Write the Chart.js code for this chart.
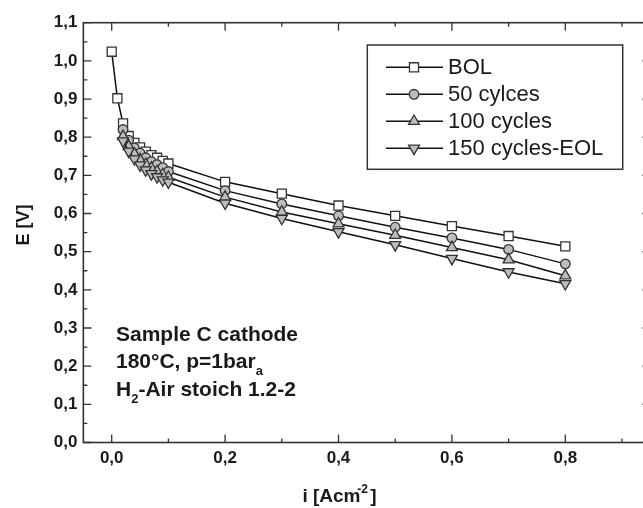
<!DOCTYPE html>
<html><head><meta charset="utf-8">
<script src="https://cdn.jsdelivr.net/npm/chart.js@4.4.0/dist/chart.umd.min.js"></script>
<style>
html,body{margin:0;padding:0;overflow:hidden;background:#fff;width:643px;height:508px}
#wrap{position:absolute;left:0;top:0;width:660px;height:508px}
</style>
</head><body><div id="wrap"><canvas id="c" width="660" height="508"></canvas></div>
<script>
// ---- data ----
const currentBOL = [0, 0.01, 0.02, 0.03, 0.04, 0.05, 0.06, 0.07, 0.08, 0.09, 0.1, 0.2, 0.3, 0.4, 0.5, 0.6, 0.7, 0.8];
const currentCycled = [0.02, 0.03, 0.04, 0.05, 0.06, 0.07, 0.08, 0.09, 0.1, 0.2, 0.3, 0.4, 0.5, 0.6, 0.7, 0.8];
const voltageBOL = [1.024, 0.902, 0.836, 0.803, 0.785, 0.773, 0.762, 0.753, 0.746, 0.738, 0.731, 0.683, 0.652, 0.621, 0.594, 0.567, 0.541, 0.514];
const voltage50 = [0.820, 0.792, 0.772, 0.758, 0.746, 0.736, 0.728, 0.720, 0.710, 0.660, 0.625, 0.594, 0.564, 0.536, 0.506, 0.468];
const voltage100 = [0.802, 0.776, 0.756, 0.741, 0.729, 0.719, 0.710, 0.702, 0.695, 0.643, 0.604, 0.573, 0.543, 0.511, 0.479, 0.437];
const voltage150 = [0.790, 0.763, 0.743, 0.727, 0.714, 0.704, 0.696, 0.688, 0.682, 0.627, 0.587, 0.552, 0.518, 0.482, 0.447, 0.416];
const seriesLabels = ['BOL', '50 cylces', '100 cycles', '150 cycles-EOL'];
const xTickValues = [0, 0.2, 0.4, 0.6, 0.8];
const xMinorTickValues = [0.1, 0.3, 0.5, 0.7, 0.9];
const yTickValues = [0, 0.1, 0.2, 0.3, 0.4, 0.5, 0.6, 0.7, 0.8, 0.9, 1.0, 1.1];
const yMinorTickValues = [0.05, 0.15, 0.25, 0.35, 0.45, 0.55, 0.65, 0.75, 0.85, 0.95, 1.05];
const annotationLines = [
  [{t: 'Sample C cathode'}],
  [{t: '180°C, p=1bar'}, {t: 'a', sub: true}],
  [{t: 'H'}, {t: '2', sub: true}, {t: '-Air stoich 1.2-2'}]
];

const pts = (xs, ys) => xs.map((x, i) => ({x: x, y: ys[i]}));
const EDGE = '#333333';
const GREY = '#bdbdbd';
const FONT = '"Liberation Sans", Arial, sans-serif';

function mk(label, data, style, fill, radius, rotation) {
  return {
    label: label, data: data, borderColor: '#111', borderWidth: 1.5, tension: 0,
    pointStyle: style, pointRadius: radius, pointHoverRadius: radius,
    pointRotation: rotation || 0, pointBackgroundColor: fill,
    pointBorderColor: EDGE, pointBorderWidth: 1.3, fill: false
  };
}

const datasets = [
  mk(seriesLabels[3], pts(currentCycled, voltage150), 'triangle', GREY, 6.3, 180),
  mk(seriesLabels[2], pts(currentCycled, voltage100), 'triangle', GREY, 6.3, 0),
  mk(seriesLabels[1], pts(currentCycled, voltage50), 'circle', GREY, 4.8, 0),
  mk(seriesLabels[0], pts(currentBOL, voltageBOL), 'rect', '#ffffff', 6.4, 0)
];

function drawRich(ctx, parts, x, y, size, subSize, subDy) {
  let cx = x;
  parts.forEach(p => {
    if (p.sub) {
      ctx.font = 'bold ' + subSize + 'px ' + FONT;
      ctx.fillText(p.t, cx, y + subDy);
    } else {
      ctx.font = 'bold ' + size + 'px ' + FONT;
      ctx.fillText(p.t, cx, y);
    }
    cx += ctx.measureText(p.t).width;
  });
}

const decor = {
  id: 'decor',
  beforeDatasetsDraw(chart) {
    const ctx = chart.ctx, a = chart.chartArea;
    const xs = chart.scales.x, ys = chart.scales.y;
    ctx.save();
    ctx.strokeStyle = EDGE; ctx.lineWidth = 1.6;
    ctx.strokeRect(a.left, a.top, a.right - a.left, a.bottom - a.top);
    ctx.lineWidth = 1.3;
    ctx.beginPath();
    const tick = (x1, y1, x2, y2) => { ctx.moveTo(x1, y1); ctx.lineTo(x2, y2); };
    xTickValues.forEach(v => { const p = xs.getPixelForValue(v); tick(p, a.bottom, p, a.bottom - 8); tick(p, a.top, p, a.top + 8); });
    xMinorTickValues.forEach(v => { const p = xs.getPixelForValue(v); tick(p, a.bottom, p, a.bottom - 4); tick(p, a.top, p, a.top + 4); });
    yTickValues.forEach(v => { const p = ys.getPixelForValue(v); tick(a.left, p, a.left + 8, p); tick(a.right, p, a.right - 8, p); });
    yMinorTickValues.forEach(v => { const p = ys.getPixelForValue(v); tick(a.left, p, a.left + 4, p); tick(a.right, p, a.right - 4, p); });
    ctx.stroke();
    ctx.restore();
  },
  afterDraw(chart) {
    const ctx = chart.ctx;
    ctx.save();
    ctx.fillStyle = '#1a1a1a';
    ctx.textBaseline = 'middle';
    // annotation
    const ay = [335, 362, 390];
    annotationLines.forEach((ln, i) => drawRich(ctx, ln, 116, ay[i], 21, 13, 9));
    // axis titles
    ctx.textAlign = 'center';
    ctx.font = 'bold 18px ' + FONT;
    ctx.save();
    ctx.translate(24, 225);
    ctx.rotate(-Math.PI / 2);
    ctx.fillText('E [V]', 0, 0);
    ctx.restore();
    ctx.textAlign = 'left';
    const base = 'i [Acm';
    ctx.font = 'bold 19px ' + FONT;
    const w1 = ctx.measureText(base).width;
    ctx.font = 'bold 12px ' + FONT;
    const w2 = ctx.measureText('-2').width;
    ctx.font = 'bold 19px ' + FONT;
    const w3 = ctx.measureText(' ]').width;
    const total = w1 + w2 * 0.7 + w3;
    let sx = 341 - total / 2;
    ctx.fillText(base, sx, 497);
    ctx.font = 'bold 12px ' + FONT;
    ctx.fillText('-2', sx + w1 - w2 * 0.3, 490);
    ctx.font = 'bold 19px ' + FONT;
    ctx.fillText(' ]', sx + w1 + w2 * 0.7 - 3, 497);
    // legend
    const L = {left: 367.3, top: 45, w: 255.4, h: 124.3};
    ctx.strokeStyle = EDGE; ctx.lineWidth = 1.5;
    ctx.strokeRect(L.left, L.top, L.w, L.h);
    const order = [3, 2, 1, 0];
    order.forEach((di, i) => {
      const ds = chart.data.datasets[di];
      const y = 67.3 + i * 27;
      ctx.strokeStyle = '#111'; ctx.lineWidth = 1.5;
      ctx.beginPath(); ctx.moveTo(386, y); ctx.lineTo(443, y); ctx.stroke();
      ctx.fillStyle = ds.pointBackgroundColor; ctx.strokeStyle = ds.pointBorderColor; ctx.lineWidth = ds.pointBorderWidth;
      Chart.helpers.drawPoint(ctx, {pointStyle: ds.pointStyle, radius: ds.pointRadius, rotation: ds.pointRotation, borderWidth: ds.pointBorderWidth}, 414, y);
      ctx.fillStyle = '#1a1a1a';
      ctx.font = '22px ' + FONT;
      ctx.textAlign = 'left';
      ctx.fillText(ds.label, 448, y + 1);
    });
    ctx.restore();
  }
};

const fmt = v => Number(v).toFixed(1).replace('.', ',');

new Chart(document.getElementById('c'), {
  type: 'line',
  data: {datasets: datasets},
  options: {
    responsive: false, animation: false, devicePixelRatio: 1,
    layout: {padding: {top: 22.7, right: 9.65, left: 0, bottom: 0}},
    plugins: {legend: {display: false}, tooltip: {enabled: false}},
    scales: {
      x: {
        type: 'linear', min: -0.05, max: 0.95,
        grid: {display: false, drawTicks: false}, border: {display: false},
        afterBuildTicks: s => { s.ticks = xTickValues.map(v => ({value: v})); },
        afterFit: s => { s.height = 65.5; },
        ticks: {callback: fmt, padding: 6, color: '#1a1a1a', maxRotation: 0, autoSkip: false,
                font: {family: FONT, size: 17, weight: 'bold'}}
      },
      y: {
        type: 'linear', min: 0, max: 1.1,
        grid: {display: false, drawTicks: false}, border: {display: false},
        afterBuildTicks: s => { s.ticks = yTickValues.map(v => ({value: v})); },
        afterFit: s => { s.width = 83.35; },
        ticks: {callback: fmt, padding: 6, color: '#1a1a1a', autoSkip: false,
                font: {family: FONT, size: 17, weight: 'bold'}}
      }
    }
  },
  plugins: [decor]
});
</script>
</body></html>
